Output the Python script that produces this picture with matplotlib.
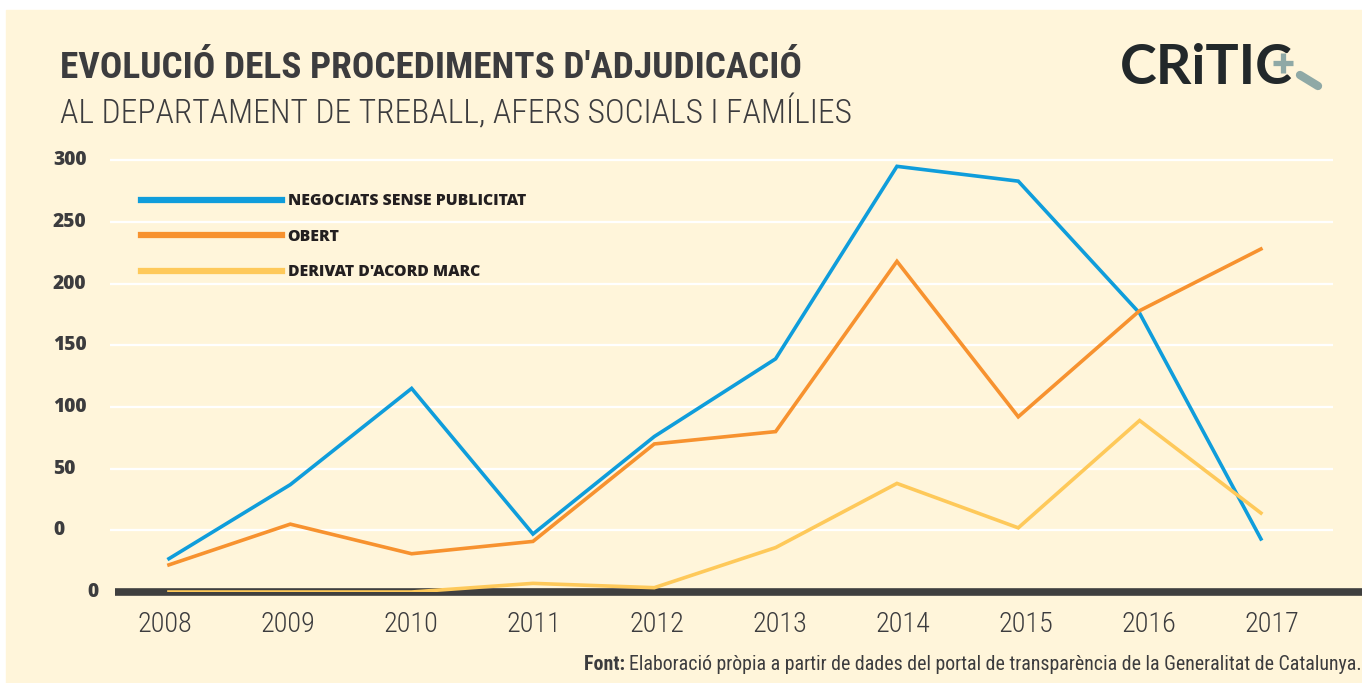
import matplotlib
matplotlib.use("Agg")
import matplotlib.pyplot as plt
from matplotlib import transforms
from matplotlib.lines import Line2D

# --- data ---
years = [2008, 2009, 2010, 2011, 2012, 2013, 2014, 2015, 2016, 2017]
negociats = [27, 87, 165, 47, 126, 189, 345, 333, 226, 43]
obert = [22, 55, 31, 41, 120, 130, 268, 142, 228, 278]
derivat = [0, 0, 0, 7, 3.5, 36, 88, 52, 139, 64]

series_names = ["NEGOCIATS SENSE PUBLICITAT", "OBERT", "DERIVAT D'ACORD MARC"]
series_colors = ["#0f9ddb", "#f7922f", "#fec95a"]

ytick_pos = [50, 100, 150, 200, 250, 300, 350]
ytick_labels = ["0", "50", "100", "150", "200", "250", "300"]

title = "EVOLUCIÓ DELS PROCEDIMENTS D'ADJUDICACIÓ"
subtitle = "AL DEPARTAMENT DE TREBALL, AFERS SOCIALS I FAMÍLIES"
source = "Elaboració pròpia a partir de dades del portal de transparència de la Generalitat de Catalunya."

BG = "#fff5da"
DARK = "#3c3c3e"
LOGO_GREY = "#8fa9a6"
NARROW = ["Roboto Condensed", "DejaVu Sans"]

fig = plt.figure(figsize=(13.62, 6.83), dpi=100)
fig.patch.set_facecolor("white")
# cream card (thin white strip on top / left like the original)
fig.patches.append(plt.Rectangle((6 / 1362, 0), 1, (683 - 10) / 683,
                                 transform=fig.transFigure, color=BG, zorder=-10))
renderer = fig.canvas.get_renderer()


def fit_width(txt, target_px):
    # shrink/grow the font so the text covers the same width as the original
    w = txt.get_window_extent(renderer).width
    txt.set_fontsize(txt.get_fontsize() * target_px / w)


ax = fig.add_axes([110 / 1362, 91 / 683, 1223 / 1362, 438 / 683])
ax.set_facecolor("none")
for s in ax.spines.values():
    s.set_visible(False)
ax.set_xlim(2007.514, 2017.594)
ax.set_ylim(0, 355)

# grid lines
for v in ytick_pos:
    ax.axhline(v, color="white", lw=1.6, zorder=0)
ax.set_yticks([])

# y labels (left aligned, as in the original)
blend = transforms.blended_transform_factory(ax.transAxes, ax.transData)
for v, lab in zip(ytick_pos, ytick_labels):
    ax.text(-57 / 1223, v, lab, transform=blend, ha="left", va="center",
            fontsize=13.8, fontweight=800, color=DARK, family="Open Sans")
ax.text(-11 / 1223, 0, "0", transform=blend, ha="right", va="center",
        fontsize=13.8, fontweight=800, color=DARK, family="Open Sans")

# thick base line
ax.axhline(0, xmin=5 / 1223, xmax=1252 / 1223, color="#3f3f3f", lw=5.5,
           clip_on=False, zorder=1, solid_capstyle="butt")

# lines
for vals, col, name in zip([negociats, obert, derivat], series_colors, series_names):
    ax.plot(years, vals, color=col, lw=2.6, label=name, zorder=3,
            solid_joinstyle="miter")

ax.set_xticks(years)
ax.set_xticklabels([str(y) for y in years], fontsize=20, color=DARK,
                   family=NARROW, fontweight="light")
ax.tick_params(axis="x", length=0, pad=14)
fig.canvas.draw()
# the year labels in the original sit on a slightly wider spacing than the points
for i, t in enumerate(ax.get_xticklabels()):
    fit_width(t, 55)
    shift = transforms.ScaledTranslation((1.7 * i - 4) / 100, 0, fig.dpi_scale_trans)
    t.set_transform(t.get_transform() + shift)

# legend
handles = [Line2D([], [], color=c, lw=4.5) for c in series_colors]
leg = ax.legend(handles, series_names, loc="upper left",
                bbox_to_anchor=(31 / 1223, 1 - 39 / 438), frameon=False,
                handlelength=9.0, handletextpad=0.35, labelspacing=1.25,
                borderaxespad=0, borderpad=0,
                prop={"family": "Open Sans", "weight": 800, "size": 11.3})
for t in leg.get_texts():
    t.set_color("#231f20")

# titles
t1 = fig.text(60 / 1362, (683 - 78) / 683, title, fontsize=30, fontweight="bold",
              color=DARK, family=NARROW, va="baseline", ha="left")
fit_width(t1, 740)
t2 = fig.text(60 / 1362, (683 - 123) / 683, subtitle, fontsize=26,
              fontweight="light", color=DARK, family=NARROW,
              va="baseline", ha="left")
fit_width(t2, 792)

# logo: word + magnifier (plus sign and handle drawn as strokes)
fig.text(1120 / 1362, (683 - 84) / 683, "CRiTIC", fontsize=40,
         fontweight="bold", color="#22282a", family="Lato",
         va="baseline", ha="left")
px = lambda x: x / 1362
py = lambda y: (683 - y) / 683
for xs, ys in [([1273, 1293], [63, 63]), ([1283, 1283], [53, 73])]:
    fig.lines.append(Line2D([px(x) for x in xs], [py(y) for y in ys],
                            transform=fig.transFigure, color=LOGO_GREY, lw=3.8,
                            solid_capstyle="butt"))
fig.lines.append(Line2D([px(1300), px(1318)], [py(75), py(86)],
                        transform=fig.transFigure, color=LOGO_GREY, lw=6,
                        solid_capstyle="round"))

# source
src = fig.text(1362 / 1362, (683 - 664) / 683, source, fontsize=11,
               color=DARK, family=NARROW, va="center", ha="right")
fit_width(src, 730)
ax.annotate("Font: ", xy=(0, 0.5), xycoords=src, ha="right", va="center",
            fontsize=src.get_fontsize(), fontweight="bold", color=DARK,
            family=NARROW, annotation_clip=False)

fig.savefig("out.png", dpi=100, facecolor=fig.get_facecolor())
